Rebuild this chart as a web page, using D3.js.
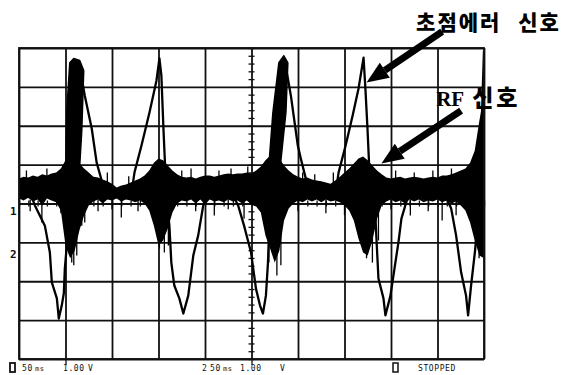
<!DOCTYPE html>
<html>
<head>
<meta charset="utf-8">
<script src="https://cdn.jsdelivr.net/npm/d3@7"></script>
<style>
  body { margin: 0; background: #fff; }
  svg { display: block; }
</style>
</head>
<body>
<svg id="scope"></svg>
<script>
// scope graticule: 10 x 8 divisions, 50 ms/div, 1.00 V/div
const timeTicks = [0, 50, 100, 150, 200, 250, 300, 350, 400, 450, 500];
const voltTicks = [-4, -3, -2, -1, 0, 1, 2, 3, 4];

// RF signal envelope, one reading every 5 ms (V)
const rfTimes = d3.range(0, 501, 5);
const rfUpper = [
  0.64, 0.69, 0.67, 0.72, 0.69, 0.75, 0.72, 0.77, 0.80, 0.90,
  1.11, 1.16, 1.11, 1.03, 0.90, 0.80, 0.69, 0.67, 0.62, 0.57,
  0.51, 0.41, 0.46, 0.49, 0.54, 0.59, 0.64, 0.72, 0.85, 1.05,
  1.16, 1.11, 0.98, 0.85, 0.75, 0.69, 0.67, 0.69, 0.64, 0.69,
  0.72, 0.72, 0.69, 0.72, 0.75, 0.77, 0.75, 0.77, 0.77, 0.80,
  0.77, 0.85, 0.95, 1.11, 1.23, 1.31, 1.16, 0.98, 0.85, 0.75,
  0.69, 0.64, 0.67, 0.62, 0.59, 0.57, 0.54, 0.51, 0.59, 0.69,
  0.80, 0.90, 1.03, 1.16, 1.21, 1.11, 0.98, 0.85, 0.75, 0.67,
  0.64, 0.67, 0.69, 0.64, 0.67, 0.69, 0.67, 0.64, 0.67, 0.69,
  0.67, 0.72, 0.72, 0.75, 0.80, 0.85, 0.90, 1.05, 1.36, 2.13,
  2.78
];
const rfLower = [
  0.13, 0.08, 0.15, 0.05, 0.10, -0.05, 0.13, 0.08, 0.03, -0.18,
  -1.08, -1.41, -1.21, -0.69, -0.31, -0.05, 0.05, 0.10, 0.00, 0.10,
  0.08, 0.13, 0.05, 0.10, 0.08, 0.03, 0.08, 0.00, -0.18, -0.57,
  -1.08, -0.95, -0.64, -0.23, 0.00, 0.08, 0.05, 0.10, 0.00, 0.10,
  -0.03, 0.10, 0.05, 0.08, 0.03, 0.10, 0.05, 0.08, 0.00, 0.08,
  -0.03, -0.08, -0.23, -0.82, -1.16, -1.52, -1.21, -0.44, -0.13, 0.00,
  0.08, 0.03, 0.10, 0.05, 0.10, 0.03, 0.10, 0.05, 0.08, 0.03,
  -0.05, -0.18, -0.44, -0.90, -1.26, -1.34, -0.95, -0.39, -0.05, 0.05,
  0.10, 0.03, 0.08, 0.00, 0.10, 0.05, 0.10, 0.03, 0.08, 0.05,
  0.10, 0.03, 0.08, 0.00, 0.05, -0.05, -0.18, -0.49, -0.95, -1.34,
  -1.41
];
// single RF spikes sticking out of the band [ms, V]
const rfSpikes = [
  [12, -0.2], [24.6, -0.49], [45, -0.25], [56.7, -1.52], [58.9, -1.59], [62.1, -1.34],
  [67.5, -0.57], [70.7, -0.49], [85, -0.2], [100, -0.15], [110, -0.36], [128, -0.2],
  [151, -1.16], [156.3, -1.26], [160.6, -1.08], [190, -0.2], [210, -0.31], [225, -0.15],
  [242, -0.39], [268.7, -1.52], [277.3, -1.85], [281.6, -1.59], [300, -0.2], [330, -0.25],
  [350, -0.3], [373.7, -1.41], [380, -1.52], [386.5, -0.95], [400, -0.15], [420.8, -0.31],
  [440, -0.2], [455, -0.44], [470, -0.3], [494.7, -1.41],
  [8, 0.85], [30, 0.9], [47, 0.98], [95, 0.8], [118, 0.7], [175, 0.85], [185, 0.9],
  [215, 0.85], [228, 0.9], [246, 0.95], [305, 0.8], [318, 0.75], [338, 0.8], [405, 0.85],
  [425, 0.8], [445, 0.85], [465, 0.9]
];

// focus error signal [ms, V]
const focusTrace = [
  [0, 0.21], [13.9, 0.15], [17.1, -0.05], [27.8, -0.57], [33.2, -1.26], [35.3, -2.03],
  [40.7, -2.44], [42.8, -2.96], [46, -2.62], [48.2, -2.31], [49.3, -1.67], [51.4, -1.08],
  [52.5, -0.05], [53.5, 1.05], [56.7, 2.78], [60, 3.47], [62.1, 3.62], [65.3, 3.52],
  [70.7, 2.78], [78.2, 1.93], [83.5, 1.05], [88.9, 0.59], [94.2, 0.33], [121, 0.28],
  [124.2, 0.8], [131.7, 1.49], [140.3, 2.34], [147.8, 3.16], [151, 3.73], [153.1, 3.29],
  [155.3, 1.93], [158.5, 0.21], [161.7, -0.57], [163.8, -1.52], [167, -2.11], [172.4, -2.44],
  [176.7, -2.83], [182, -2.37], [187.4, -1.34], [192.7, -0.82], [198.1, -0.05], [202.4, 0.21],
  [230.2, 0.21], [235.6, -0.05], [242, -0.57], [249.5, -1.26], [254.8, -2.19], [259.1, -2.62],
  [262.3, -2.83], [265.5, -2.37], [267.7, -1.52], [270.9, 0.64], [276.2, 2.34], [280.5, 3.29],
  [283.7, 3.68], [288, 3.37], [292.3, 2.78], [299.8, 1.49], [303, 1.16], [308.4, 0.64],
  [313.7, 0.33], [340.5, 0.28], [343.7, 0.8], [351.2, 1.49], [358.7, 2.26], [365.1, 2.96],
  [370.5, 3.75], [372.6, 2.9], [374.7, 1.93], [378, 0.21], [383.3, -0.39], [386.5, -1.93],
  [391.9, -2.44], [394, -2.88], [399.4, -2.37], [404.7, -1.52], [408, -1.0], [411.2, -0.39],
  [415.4, -0.05], [418.6, 0.21], [458.3, 0.21], [464.7, -0.13], [470, -0.82], [475.4, -1.77],
  [480.7, -2.37], [482.9, -2.88], [486.1, -2.11], [490.4, -1.21], [493.6, -0.31], [495.8, 0.21],
  [497.9, 2.34], [500, 3.93]
];
// overlapping sweeps that fill the first and third peaks [ms, V]
const peakBlobA = [
  [50.3, 0.98], [51.4, 2.39], [54.6, 3.62], [58.9, 3.73], [65.3, 3.68], [69.6, 3.42],
  [67.5, 1.88], [65.3, 0.98]
];
const peakBlobB = [
  [268.7, 0.98], [273, 2.34], [279.4, 3.62], [284.8, 3.8], [289.1, 3.62], [287, 2.34],
  [282.7, 1.36], [280.5, 0.85]
];

const channelGrounds = [["1", -0.2], ["2", -1.3]];
const callouts = [
  { text: "초점에러 신호", at: [427, 4.47], tail: [455, 4.42], tip: [373.7, 3.11] },
  { text: "RF 신호", at: [448.6, 2.52], tail: [475.4, 2.39], tip: [389.7, 1.03] }
];
const footer = [
  [22, "50"], [35, "ms"], [63, "1.00"], [88, "V"],
  [202, "2"], [210, "50"], [223, "ms"], [240, "1.00"], [280, "V"],
  [418, "STOPPED"]
];

const width = 578, height = 375;
const ink = "#111";

const x = d3.scaleLinear().domain([0, 500]).range([19, 484]);
const y = d3.scaleLinear().domain([-4, 4]).range([359, 48]);

const svg = d3.select("#scope")
    .attr("width", width)
    .attr("height", height)
    .attr("viewBox", `0 0 ${width} ${height}`);

svg.append("rect").attr("width", width).attr("height", height).attr("fill", "#fff");

svg.append("clipPath").attr("id", "plot")
  .append("rect")
    .attr("x", x(0)).attr("y", y(4))
    .attr("width", x(500) - x(0)).attr("height", y(-4) - y(4));

// graticule
svg.append("g")
    .attr("transform", `translate(0,${y(-4)})`)
    .call(d3.axisBottom(x).tickValues(timeTicks).tickSize(-(y(-4) - y(4))).tickFormat(""))
    .call(g => g.select(".domain").remove())
    .call(g => g.selectAll("line").attr("stroke", ink).attr("stroke-width", 1.8));

svg.append("g")
    .attr("transform", `translate(${x(0)},0)`)
    .call(d3.axisLeft(y).tickValues(voltTicks).tickSize(-(x(500) - x(0))).tickFormat(""))
    .call(g => g.select(".domain").remove())
    .call(g => g.selectAll("line").attr("stroke", ink).attr("stroke-width", 1.8));

// minor ticks on the centre lines
const minorV = d3.range(-4, 4.001, 0.2);
const minorT = d3.range(0, 500.001, 10);
[d3.axisLeft, d3.axisRight].forEach(ax => {
  svg.append("g")
      .attr("transform", `translate(${x(250)},0)`)
      .call(ax(y).tickValues(minorV).tickSize(3).tickFormat(""))
      .call(g => g.select(".domain").remove())
      .call(g => g.selectAll("line").attr("stroke", ink).attr("stroke-width", 1.3));
});
[d3.axisTop, d3.axisBottom].forEach(ax => {
  svg.append("g")
      .attr("transform", `translate(0,${y(0)})`)
      .call(ax(x).tickValues(minorT).tickSize(3).tickFormat(""))
      .call(g => g.select(".domain").remove())
      .call(g => g.selectAll("line").attr("stroke", ink).attr("stroke-width", 1.3));
});

// trigger marker and centre marker below the screen
svg.append("g")
    .attr("transform", `translate(0,${y(-4)})`)
    .call(d3.axisBottom(x).tickValues([50, 250]).tickSize(6).tickFormat(""))
    .call(g => g.select(".domain").remove())
    .call(g => g.selectAll("line").attr("stroke", ink).attr("stroke-width", 1.3));

const plot = svg.append("g").attr("clip-path", "url(#plot)");

// RF signal band
const rf = rfTimes.map((t, i) => ({ t, hi: rfUpper[i], lo: rfLower[i] }));
plot.append("path")
    .datum(rf)
    .attr("fill", "#000")
    .attr("d", d3.area().x(d => x(d.t)).y0(d => y(d.lo)).y1(d => y(d.hi)));

plot.append("g")
  .selectAll("line")
  .data(rfSpikes)
  .join("line")
    .attr("x1", d => x(d[0])).attr("x2", d => x(d[0]))
    .attr("y1", d => d[1] < 0 ? y(0.1) : y(0.5)).attr("y2", d => y(d[1]))
    .attr("stroke", "#000")
    .attr("stroke-width", 1.3);

// focus error signal
const line = d3.line().x(d => x(d[0])).y(d => y(d[1]));
plot.append("path")
    .datum(focusTrace)
    .attr("fill", "none")
    .attr("stroke", "#000")
    .attr("stroke-width", 2.3)
    .attr("stroke-linejoin", "round")
    .attr("d", line);
plot.selectAll(".blob")
  .data([peakBlobA, peakBlobB])
  .join("path")
    .attr("class", "blob")
    .attr("fill", "#000")
    .attr("stroke", "#000")
    .attr("stroke-width", 1.5)
    .attr("stroke-linejoin", "round")
    .attr("d", d => line(d) + "Z");

// outer frame
svg.append("rect")
    .attr("x", x(0)).attr("y", y(4))
    .attr("width", x(500) - x(0)).attr("height", y(-4) - y(4))
    .attr("fill", "none").attr("stroke", ink).attr("stroke-width", 1.8);

// channel ground markers
svg.append("g")
  .selectAll("text")
  .data(channelGrounds)
  .join("text")
    .attr("x", 10)
    .attr("y", d => y(d[1]) + 4)
    .attr("font-family", "DejaVu Sans Mono")
    .attr("font-weight", "bold")
    .attr("font-size", 11)
    .attr("fill", ink)
    .text(d => d[0]);

// callouts
callouts.forEach(c => {
  const x0 = x(c.tail[0]), y0 = y(c.tail[1]);
  const x1 = x(c.tip[0]), y1 = y(c.tip[1]);
  const a = Math.atan2(y1 - y0, x1 - x0);
  const len = 22, half = 9;
  const bx = x1 - len * Math.cos(a), by = y1 - len * Math.sin(a);
  const px = -Math.sin(a) * half, py = Math.cos(a) * half;
  svg.append("line")
      .attr("x1", x0).attr("y1", y0).attr("x2", bx).attr("y2", by)
      .attr("stroke", "#000").attr("stroke-width", 7);
  svg.append("path")
      .attr("d", `M${x1},${y1}L${bx + px},${by + py}L${bx - px},${by - py}Z`)
      .attr("fill", "#000");
});

const [focusLabel, rfLabel] = callouts;
svg.append("text")
    .attr("x", x(focusLabel.at[0])).attr("y", y(focusLabel.at[1]))
    .attr("font-family", "Noto Sans CJK KR")
    .attr("font-weight", 900)
    .attr("font-size", 21)
    .attr("letter-spacing", 2)
    .attr("word-spacing", 10)
    .attr("fill", "#000")
    .text(focusLabel.text);

const rfText = svg.append("text")
    .attr("x", x(rfLabel.at[0])).attr("y", y(rfLabel.at[1]))
    .attr("fill", "#000");
rfText.append("tspan")
    .attr("font-family", "Liberation Serif")
    .attr("font-weight", "bold")
    .attr("font-size", 21)
    .text(rfLabel.text.split(" ")[0]);
rfText.append("tspan")
    .attr("dx", 8)
    .attr("font-family", "Noto Sans CJK KR")
    .attr("font-weight", 900)
    .attr("font-size", 23)
    .attr("letter-spacing", 3)
    .text(rfLabel.text.split(" ")[1]);

// status line
svg.append("g")
  .selectAll("text")
  .data(footer)
  .join("text")
    .attr("x", d => d[0])
    .attr("y", 371)
    .attr("font-family", "DejaVu Sans Mono")
    .attr("font-size", d => d[1] === "ms" ? 7 : 8)
    .attr("letter-spacing", 0.6)
    .attr("fill", ink)
    .text(d => d[1]);

svg.append("rect").attr("x", 10).attr("y", 363).attr("width", 5).attr("height", 9)
    .attr("fill", "none").attr("stroke", ink).attr("stroke-width", 1.8);
svg.append("rect").attr("x", 393).attr("y", 363).attr("width", 5).attr("height", 9)
    .attr("fill", "none").attr("stroke", ink).attr("stroke-width", 1.5);
</script>
</body>
</html>
